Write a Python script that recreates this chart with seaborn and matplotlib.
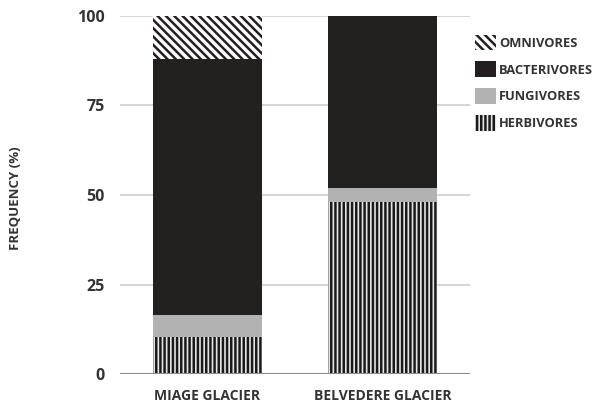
import matplotlib
matplotlib.use('Agg')
import matplotlib.pyplot as plt
import seaborn as sns
import pandas as pd
import numpy as np
from matplotlib.patches import Patch

# ========================================
# Данные
# ========================================
glaciers = ['MIAGE GLACIER', 'BELVEDERE GLACIER']
herbivores = [10.5, 48.0]
fungivores = [6.0, 4.0]
bacterivores = [71.5, 48.0]
omnivores = [12.0, 0.0]

groups = ['OMNIVORES', 'BACTERIVORES', 'FUNGIVORES', 'HERBIVORES']
styles = {
    'OMNIVORES': dict(color='white', edgecolor='#231f20', hatch='\\\\\\\\'),
    'BACTERIVORES': dict(color='#231f20', edgecolor='#231f20', hatch=''),
    'FUNGIVORES': dict(color='#b2b2b2', edgecolor='#b2b2b2', hatch=''),
    'HERBIVORES': dict(color='#e6e6e6', edgecolor='#1a1a1a', hatch='||||'),
}

sns.set_theme(style='white')
plt.rcParams['font.family'] = ['Open Sans', 'DejaVu Sans']
plt.rcParams['hatch.linewidth'] = 1.8

df = pd.DataFrame({
    'glacier': glaciers,
    'HERBIVORES': herbivores,
    'FUNGIVORES': fungivores,
    'BACTERIVORES': bacterivores,
    'OMNIVORES': omnivores,
})
# накопленные суммы снизу вверх
stack_order = ['HERBIVORES', 'FUNGIVORES', 'BACTERIVORES', 'OMNIVORES']
cum = df[stack_order].cumsum(axis=1)

fig = plt.figure(figsize=(5.99, 4.08), dpi=100)
ax = fig.add_axes([0.2, 0.083, 0.585, 0.878])

for g in groups:  # сверху вниз, чтобы нижние слои перекрывали
    st = styles[g]
    sns.barplot(x=df['glacier'], y=cum[g], ax=ax, color=st['color'],
                width=0.625, linewidth=0, edgecolor=st['edgecolor'],
                hatch=st['hatch'], zorder=3)

ax.set_ylim(0, 100)
ax.set_xlim(-0.5, 1.5)
ax.set_yticks([0, 25, 50, 75, 100])
ax.yaxis.grid(True, color='#d6d6d6', linewidth=1.5, zorder=0)
ax.axhline(0, color='#8c8c8c', linewidth=1.5, zorder=4)
sns.despine(ax=ax, left=True, bottom=True)
ax.tick_params(axis='both', length=0)
ax.tick_params(axis='y', pad=11)
ax.tick_params(axis='x', pad=11)
for lab in ax.get_yticklabels() + ax.get_xticklabels():
    lab.set_fontweight('bold')
    lab.set_color('#333333')
for lab in ax.get_yticklabels():
    lab.set_fontsize(11.5)
for lab in ax.get_xticklabels():
    lab.set_fontsize(10)
ax.set_xlabel('')
ax.set_ylabel('FREQUENCY (%)', fontsize=9.5, fontweight='bold', color='#333333')
ax.yaxis.set_label_coords(-0.28, 0.49)

handles = []
for g in groups:
    st = styles[g]
    handles.append(Patch(facecolor=st['color'], edgecolor=st['edgecolor'],
                         hatch=st['hatch'], linewidth=0, label=g))
leg = fig.legend(handles=handles, loc='upper left', bbox_to_anchor=(0.793, 0.915),
                 frameon=False, fontsize=9.3, handlelength=1.65, handleheight=1.5,
                 handletextpad=0.2, labelspacing=0.85, borderaxespad=0,
                 borderpad=0)
for t in leg.get_texts():
    t.set_fontweight('bold')
    t.set_color('#333333')

fig.savefig('out.png', dpi=100)
